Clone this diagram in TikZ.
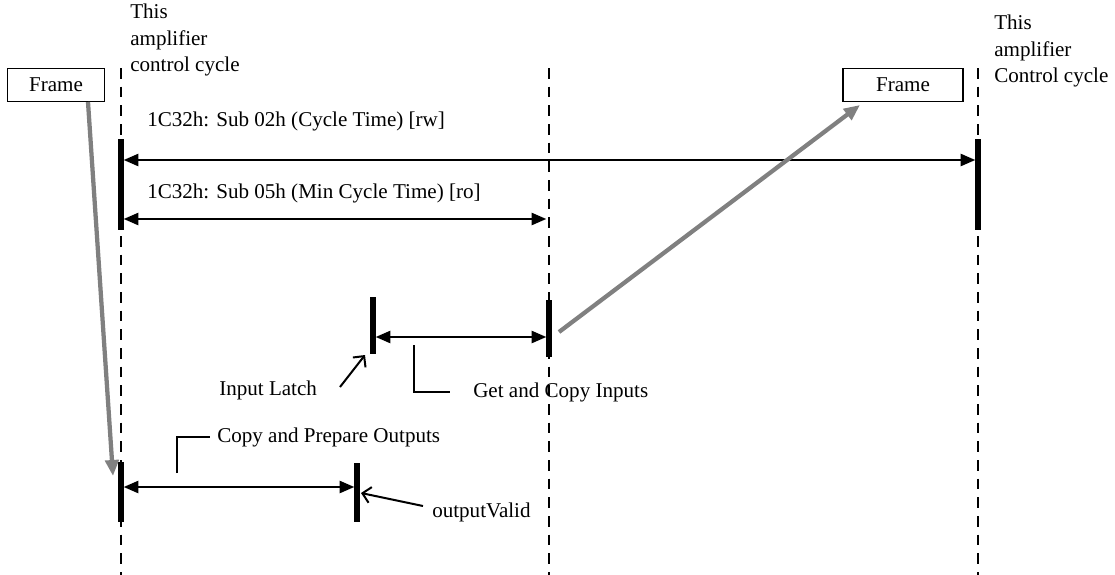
\documentclass[tikz,border=0pt]{standalone}
\usepackage{fontspec}
\setmainfont{Liberation Serif}
\usetikzlibrary{positioning,arrows.meta}
\begin{document}
\begin{tikzpicture}[x=0.75pt,y=-0.75pt,
                every node/.style={font=\fontsize{15.8}{20}\selectfont, inner sep=0pt},
                txt/.style={anchor=west, align=left},
                frame/.style={draw, line width=1.3pt, minimum height=24.75pt},
                lifeline/.style={line width=1.8pt, dash pattern=on 8pt off 6pt},
                bar/.style={line width=4.8pt},
                span/.style={line width=1.8pt, shorten <=2pt, shorten >=2pt,
                    {Triangle[length=11pt,width=9pt]}-{Triangle[length=11pt,width=9pt]}},
                msg/.style={line width=3.2pt, draw={rgb,255:red,128;green,128;blue,128},
                    -{Triangle[length=12pt,width=10pt]}},
                ptr/.style={line width=1.5pt, -{Straight Barb[length=6pt,width=12pt]}},
                lead/.style={line width=1.3pt}]
            \useasboundingbox (0,0) rectangle (1115,575);
            \node[txt] (c1) at (130,40) {This\\amplifier\\control cycle};
            \node[txt] (c2) at (994,51) {This\\amplifier\\Control cycle};
            \node[frame, minimum width=72.75pt] (f1) at (56,85) {Frame};
            \node[frame, minimum width=90pt] (f2) at (903,85) {Frame};
            \coordinate (d1) at (121,68);  \coordinate (d1e) at (121,575);
            \coordinate (d2) at (549,68);  \coordinate (d2e) at (549,575);
            \coordinate (d3) at (978,68);  \coordinate (d3e) at (978,575);
            \draw[lifeline] (d1) -- (d1e);
            \draw[lifeline] (d2) -- (d2e);
            \draw[lifeline] (d3) -- (d3e);
            \coordinate (b1) at (121,139); \coordinate (b1e) at (121,230);
            \coordinate (b2) at (978,139); \coordinate (b2e) at (978,230);
            \coordinate (b3) at (373,297); \coordinate (b3e) at (373,354);
            \coordinate (b4) at (549,300); \coordinate (b4e) at (549,357);
            \coordinate (b5) at (121,462); \coordinate (b5e) at (121,522);
            \coordinate (b6) at (357,463); \coordinate (b6e) at (357,522);
            \draw[bar] (b1) -- (b1e);
            \draw[bar] (b2) -- (b2e);
            \draw[bar] (b3) -- (b3e);
            \draw[bar] (b4) -- (b4e);
            \draw[bar] (b5) -- (b5e);
            \draw[bar] (b6) -- (b6e);
            \node[txt] (t1) at (147,121) {1C32h: Sub 02h (Cycle Time) [rw]};
            \node[txt] (t2) at (147,193) {1C32h: Sub 05h (Min Cycle Time) [ro]};
            \coordinate (s1) at (121,160); \coordinate (s1e) at (978,160);
            \coordinate (s2) at (121,219); \coordinate (s2e) at (549,219);
            \coordinate (s3) at (373,337); \coordinate (s3e) at (549,337);
            \coordinate (s4) at (121,487); \coordinate (s4e) at (357,487);
            \draw[span] (s1) -- (s1e);
            \draw[span] (s2) -- (s2e);
            \draw[span] (s3) -- (s3e);
            \draw[span] (s4) -- (s4e);
            \coordinate (g1) at (88,102);  \coordinate (g1e) at (113,476);
            \coordinate (g2) at (559,332); \coordinate (g2e) at (860,105);
            \draw[msg] (g1) -- (g1e);
            \draw[msg] (g2) -- (g2e);
            \node[txt] (l1) at (219,390) {Input Latch};
            \coordinate (p1) at (340,387); \coordinate (p1e) at (365,355);
            \draw[ptr] (p1) -- (p1e);
            \node[txt] (l2) at (473,392) {Get and Copy Inputs};
            \coordinate (k1) at (414,345);
            \draw[lead] (k1) |- ([xshift=-17pt]l2.west);
            \node[txt] (l3) at (217,437) {Copy and Prepare Outputs};
            \coordinate (k2) at (177,473);
            \draw[lead] (k2) |- ([xshift=-5pt]l3.west);
            \node[txt] (l4) at (432,512) {outputValid};
            \coordinate (p2) at (423,506); \coordinate (p2e) at (361,493);
            \draw[ptr] (p2) -- (p2e);
        \end{tikzpicture}
\end{document}
